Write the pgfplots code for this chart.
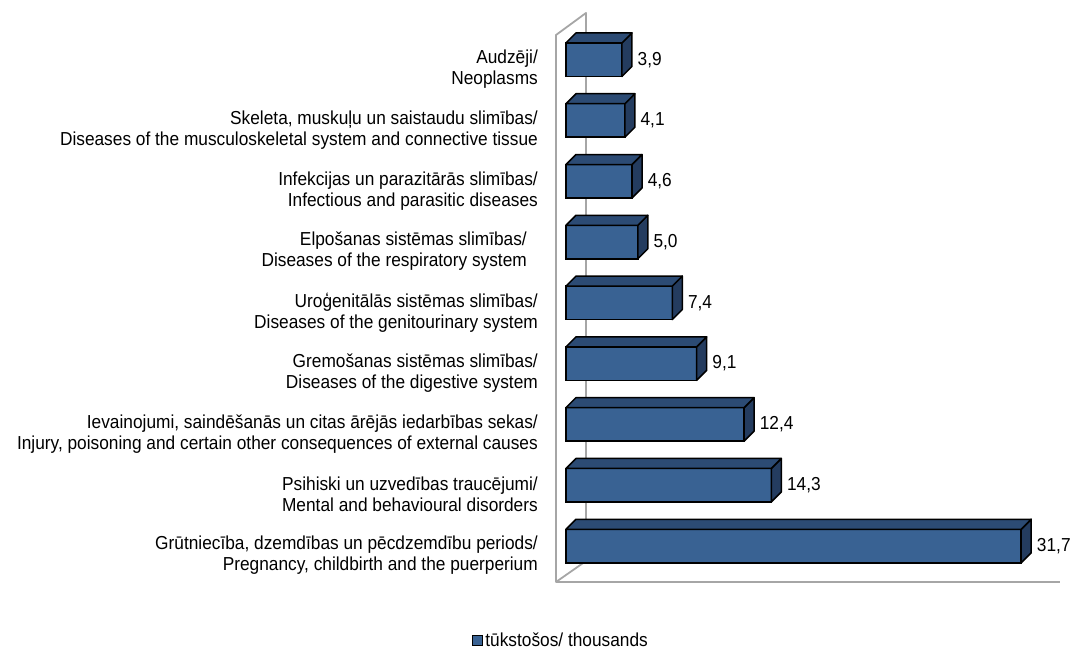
\documentclass[border=0pt]{standalone}
\usepackage{fontspec}
\setmainfont{Liberation Sans}[FakeStretch=0.92]
\usepackage{pgfplots}
\pgfplotsset{compat=1.18}
\definecolor{frontc}{RGB}{57,98,147}
\definecolor{topc}{RGB}{44,75,116}
\definecolor{sidec}{RGB}{36,60,95}
\definecolor{framec}{RGB}{166,166,166}
\newcommand{\lbl}{\fontsize{18.8bp}{21bp}\selectfont}
\pgfdeclareplotmark{box3d}{%
  \pgfmathsetmacro\L{-\rawv*14.36}%
  \pgfmathsetmacro\Lb{10-\rawv*14.36}%
  \pgfsetlinewidth{1.5bp}%
  \pgfsetroundjoin
  \pgfsetstrokecolor{black}%
  \pgfsetfillcolor{sidec}%
  \pgfpathmoveto{\pgfqpoint{0bp}{-16.75bp}}%
  \pgfpathlineto{\pgfqpoint{10bp}{-6.75bp}}%
  \pgfpathlineto{\pgfqpoint{10bp}{26.75bp}}%
  \pgfpathlineto{\pgfqpoint{0bp}{16.75bp}}%
  \pgfpathclose
  \pgfusepath{fill,stroke}%
  \pgfsetfillcolor{topc}%
  \pgfpathmoveto{\pgfqpoint{\L bp}{16.75bp}}%
  \pgfpathlineto{\pgfqpoint{0bp}{16.75bp}}%
  \pgfpathlineto{\pgfqpoint{10bp}{26.75bp}}%
  \pgfpathlineto{\pgfqpoint{\Lb bp}{26.75bp}}%
  \pgfpathclose
  \pgfusepath{fill,stroke}%
}
\begin{document}
\begin{tikzpicture}
\useasboundingbox (-566bp,-104bp) rectangle (506bp,546bp);
\begin{axis}[
  anchor=origin, at={(0,0)},
  x=14.36bp, y=60.79bp,
  xmin=-1, xmax=36, ymin=-1, ymax=9.2,
  clip=false,
  axis line style={draw=none},
  major tick length=0pt,
  xtick=\empty,
  ytick={0,1,2,3,4,5,6,7,8},
  yticklabels={
    {Grūtniecība, dzemdības un pēcdzemdību periods/\\Pregnancy, childbirth and the puerperium},
    {Psihiski un uzvedības traucējumi/\\Mental and behavioural disorders},
    {Ievainojumi, saindēšanās un citas ārējās iedarbības sekas/\\Injury, poisoning and certain other consequences of external causes},
    {Gremošanas sistēmas slimības/\\Diseases of the digestive system},
    {Uroģenitālās sistēmas slimības/\\Diseases of the genitourinary system},
    {Elpošanas sistēmas slimības/\hspace*{11bp}\\Diseases of the respiratory system\hspace*{11bp}},
    {Infekcijas un parazitārās slimības/\\Infectious and parasitic diseases},
    {Skeleta, muskuļu un saistaudu slimības/\\Diseases of the musculoskeletal system and connective tissue},
    {Audzēji/\\Neoplasms}
  },
  yticklabel style={font=\lbl, align=right, anchor=east, inner sep=0pt, xshift=-13.6bp, yshift=-9.5bp},
  legend style={at={(axis cs:-6.546,-1.55)}, anchor=west, draw=none, fill=none, inner sep=0pt, font=\lbl},
  legend cell align=left,
  legend image code/.code={\draw[fill=frontc, draw=black, line width=1.2bp] (0bp,-5bp) rectangle (10bp,5bp);},
]
\addplot[framec, line width=1.8bp, line join=round, forget plot] coordinates {(34.40,-0.592) (-0.696,-0.592) (-0.696,8.406) (1.393,8.768) (1.393,-0.247) (-0.696,-0.592)};
\addplot[xbar, bar width=33.5bp, bar shift=0pt, fill=frontc, draw=black, line width=1.5bp,
  point meta=x,
  nodes near coords={\pgfmathprintnumber[fixed, fixed zerofill, precision=1, use comma, assume math mode=true]{\pgfplotspointmeta}},
  nodes near coords style={font=\lbl, anchor=west, inner sep=0pt, xshift=15bp, text=black}]
  coordinates {(31.7,0) (14.3,1) (12.4,2) (9.1,3) (7.4,4) (5.0,5) (4.6,6) (4.1,7) (3.9,8)};
\addlegendentry{tūkstošos/ thousands}
\addplot[only marks, mark=box3d, forget plot, visualization depends on={rawx \as \rawv}]
  coordinates {(31.7,0) (14.3,1) (12.4,2) (9.1,3) (7.4,4) (5.0,5) (4.6,6) (4.1,7) (3.9,8)};
\end{axis}
\end{tikzpicture}
\end{document}
